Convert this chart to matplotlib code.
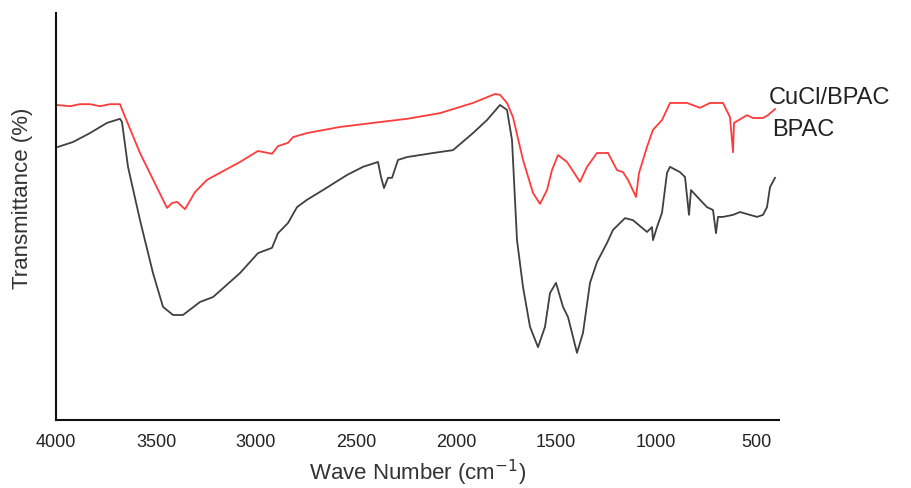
import matplotlib
matplotlib.use("Agg")
import matplotlib.pyplot as plt

plt.rcParams['font.family'] = ['Liberation Sans', 'DejaVu Sans']

# CuCl/BPAC (red)
wn_cucl = [3998, 3930, 3880, 3830, 3780, 3730, 3680, 3665, 3580, 3445, 3420, 3395, 3355, 3305, 3245,
           3080, 2990, 2920, 2890, 2840, 2815, 2745, 2580, 2415, 2245, 2080, 1915, 1805, 1780, 1745,
           1715, 1665, 1615, 1580, 1545, 1520, 1490, 1445, 1380, 1345, 1295, 1240, 1195, 1165, 1140,
           1100, 1085, 1045, 1015, 970, 930, 845, 780, 730, 665, 630, 615, 610, 545, 515, 465, 440, 405]
t_cucl = [77.4, 77.1, 77.6, 77.6, 77.1, 77.6, 77.6, 75.7, 65.6, 52.1, 53.3, 53.6, 51.8, 56.0, 59.0,
          63.4, 66.1, 65.4, 67.3, 68.1, 69.5, 70.5, 72.0, 73.0, 74.0, 75.4, 77.9, 80.1, 79.9, 77.9,
          74.4, 63.9, 55.8, 53.1, 56.5, 61.4, 65.1, 63.4, 58.5, 62.2, 65.6, 65.6, 61.4, 60.9, 59.0,
          54.8, 60.7, 67.1, 71.3, 73.7, 77.9, 77.9, 76.7, 77.9, 77.9, 74.4, 65.8, 73.0, 74.9, 74.2,
          74.2, 74.9, 76.4]

# BPAC (dark grey)
wn_bpac = [3990, 3915, 3830, 3745, 3680, 3670, 3640, 3580, 3515, 3465, 3415, 3365, 3280, 3215, 3080,
           2990, 2920, 2890, 2840, 2795, 2745, 2665, 2545, 2465, 2390, 2375, 2360, 2340, 2320, 2290,
           2245, 2115, 2015, 1915, 1845, 1780, 1745, 1720, 1695, 1665, 1630, 1590, 1555, 1530, 1500,
           1465, 1440, 1395, 1365, 1330, 1295, 1245, 1215, 1155, 1115, 1045, 1020, 1015, 995, 970,
           945, 930, 880, 855, 835, 825, 780, 745, 715, 700, 690, 665, 615, 580, 495, 465, 445, 430, 405]
t_bpac = [67.1, 68.3, 70.5, 73.0, 74.0, 73.2, 62.2, 49.1, 36.1, 27.8, 25.8, 25.8, 29.0, 30.2, 36.1,
          41.0, 42.3, 45.9, 48.4, 52.3, 54.1, 56.5, 60.2, 62.2, 63.4, 59.7, 57.0, 59.5, 59.5, 63.9,
          64.6, 65.6, 66.3, 70.5, 73.7, 77.4, 76.2, 68.8, 44.2, 32.7, 22.9, 17.9, 22.9, 31.2, 33.7,
          27.8, 25.3, 16.5, 21.4, 33.7, 38.8, 43.5, 46.7, 49.6, 49.1, 46.2, 47.4, 44.2, 47.4, 50.9,
          60.7, 62.2, 60.9, 59.7, 50.4, 56.5, 54.1, 52.3, 51.6, 45.9, 49.9, 49.9, 50.4, 51.1, 49.9,
          50.4, 52.3, 57.2, 59.5]

x_ticks = [4000, 3500, 3000, 2500, 2000, 1500, 1000, 500]

fig = plt.figure(figsize=(9.11, 4.88), dpi=100)
ax = fig.add_axes([56 / 911, 68 / 488, 723 / 911, 407 / 488])

ax.plot(wn_bpac, t_bpac, color='#404040', lw=1.3)
ax.plot(wn_cucl, t_cucl, color='#ff3b3b', lw=1.3)

ax.set_xlim(4000, 385)
ax.set_ylim(0, 100)
ax.set_xticks(x_ticks)
ax.set_xticklabels([str(v) for v in x_ticks])
ax.set_yticks([])
ax.tick_params(axis='x', length=0, pad=10, labelsize=13, labelcolor='#222222')
for s in ['top', 'right']:
    ax.spines[s].set_visible(False)
for s in ['left', 'bottom']:
    ax.spines[s].set_linewidth(1.5)
    ax.spines[s].set_color('#111111')

ax.set_xlabel('Wave Number (cm$^{-1}$)', fontsize=16, labelpad=5, color='#333333')
ax.set_ylabel('Transmittance (%)', fontsize=16, color='#333333')
ax.yaxis.set_label_coords(-0.032, 0.545)

ax.text(0.986, 0.79, 'CuCl/BPAC', transform=ax.transAxes, fontsize=17, ha='left', va='center', color='#222222')
ax.text(0.99, 0.713, 'BPAC', transform=ax.transAxes, fontsize=17, ha='left', va='center', color='#222222')

fig.savefig('out.png', dpi=100)
